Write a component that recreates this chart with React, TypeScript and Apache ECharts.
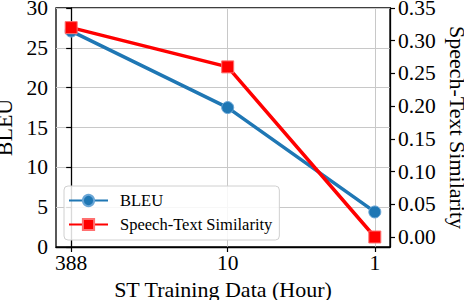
import React, { useEffect, useRef } from "react";
import * as echarts from "echarts";

const categories = ["388", "10", "1"];
const xPositions = [0, 1, 1.94];
const bleu = [27.1, 17.5, 4.4];
const similarity = [0.32, 0.26, 0.0];
const leftTicks = [0, 5, 10, 15, 20, 25, 30];
const rightTicks = [0, 0.05, 0.1, 0.15, 0.2, 0.25, 0.3, 0.35];

const FONT = "Liberation Serif";
const BLUE = "#1f77b4";
const RED = "#ff0000";

export default function App() {
  const ref = useRef<HTMLDivElement>(null);
  useEffect(() => {
    const chart = echarts.init(ref.current!, null, { renderer: "svg" });
    const axisLine = { show: true, lineStyle: { color: "#000", width: 1.3 } };
    const axisTick = (vals: number[]) => ({
      show: true,
      inside: false,
      length: 5,
      lineStyle: { color: "#000", width: 1.2 },
      customValues: vals,
    });
    chart.setOption({
      animation: false,
      backgroundColor: "#fff",
      grid: {
        left: 56,
        right: 74,
        top: 8,
        bottom: 53,
        show: true,
        borderColor: "#000",
        borderWidth: 1.3,
        backgroundColor: "transparent",
        containLabel: false,
        outerBoundsMode: "none",
      },
      legend: {
        data: ["BLEU", "Speech-Text Similarity"],
        orient: "vertical",
        left: 64,
        top: 186,
        itemWidth: 39,
        itemHeight: 14,
        itemGap: 7,
        padding: [6, 7, 7, 4],
        borderColor: "#d0d0d0",
        borderWidth: 1,
        borderRadius: 4,
        backgroundColor: "rgba(255,255,255,0.85)",
        textStyle: {
          fontFamily: FONT,
          fontSize: 16.5,
          color: "#000",
          lineHeight: 16,
          padding: [0, 0, 0, 7],
        },
      },
      xAxis: {
        type: "value",
        min: -0.097,
        max: 2.037,
        name: "ST Training Data (Hour)",
        nameLocation: "middle",
        nameGap: 30,
        nameTextStyle: { fontFamily: FONT, fontSize: 22, color: "#000" },
        axisLine,
        axisTick: axisTick(xPositions),
        axisLabel: {
          customValues: xPositions,
          formatter: (v: number) => {
            const i = xPositions.findIndex((p) => Math.abs(p - v) < 1e-6);
            return i >= 0 ? categories[i] : "";
          },
          fontFamily: FONT,
          fontSize: 21.5,
          color: "#000",
          margin: 5,
        },
        splitLine: { show: true, lineStyle: { color: "#c8c8c8", width: 1 } },
      },
      yAxis: [
        {
          type: "value",
          min: 0,
          max: 30,
          interval: 5,
          name: "BLEU",
          nameLocation: "middle",
          nameRotate: 90,
          nameGap: 33,
          nameTextStyle: { fontFamily: FONT, fontSize: 22, color: "#000" },
          axisLine,
          axisTick: axisTick(leftTicks),
          axisLabel: {
            customValues: leftTicks,
            fontFamily: FONT,
            fontSize: 21.5,
            color: "#000",
            margin: 8,
          },
          splitLine: { show: true, lineStyle: { color: "#c8c8c8", width: 1 } },
        },
        {
          type: "value",
          position: "right",
          min: -0.0153,
          max: 0.35,
          name: "Speech-Text Similarity",
          nameLocation: "middle",
          nameRotate: -90,
          nameGap: 52,
          nameTextStyle: { fontFamily: FONT, fontSize: 22, color: "#000" },
          axisLine,
          axisTick: axisTick(rightTicks),
          axisLabel: {
            customValues: rightTicks,
            formatter: (v: number) => v.toFixed(2),
            fontFamily: FONT,
            fontSize: 21.5,
            color: "#000",
            margin: 8,
          },
          splitLine: { show: false },
        },
      ],
      series: [
        {
          name: "BLEU",
          type: "line",
          yAxisIndex: 0,
          data: xPositions.map((x, i) => [x, bleu[i]]),
          symbol: "circle",
          symbolSize: 12,
          lineStyle: { color: BLUE, width: 3.5 },
          itemStyle: { color: BLUE, borderColor: "#6aa6d6", borderWidth: 1 },
          z: 3,
        },
        {
          name: "Speech-Text Similarity",
          type: "line",
          yAxisIndex: 1,
          data: xPositions.map((x, i) => [x, similarity[i]]),
          symbol: "rect",
          symbolSize: 12,
          lineStyle: { color: RED, width: 3.5 },
          itemStyle: { color: RED, borderColor: "#ff7070", borderWidth: 1 },
          z: 4,
        },
      ],
    });
    return () => chart.dispose();
  }, []);
  return (
    <div
      ref={ref}
      style={{ position: "absolute", left: 0, top: 0, width: 464, height: 300 }}
    />
  );
}
